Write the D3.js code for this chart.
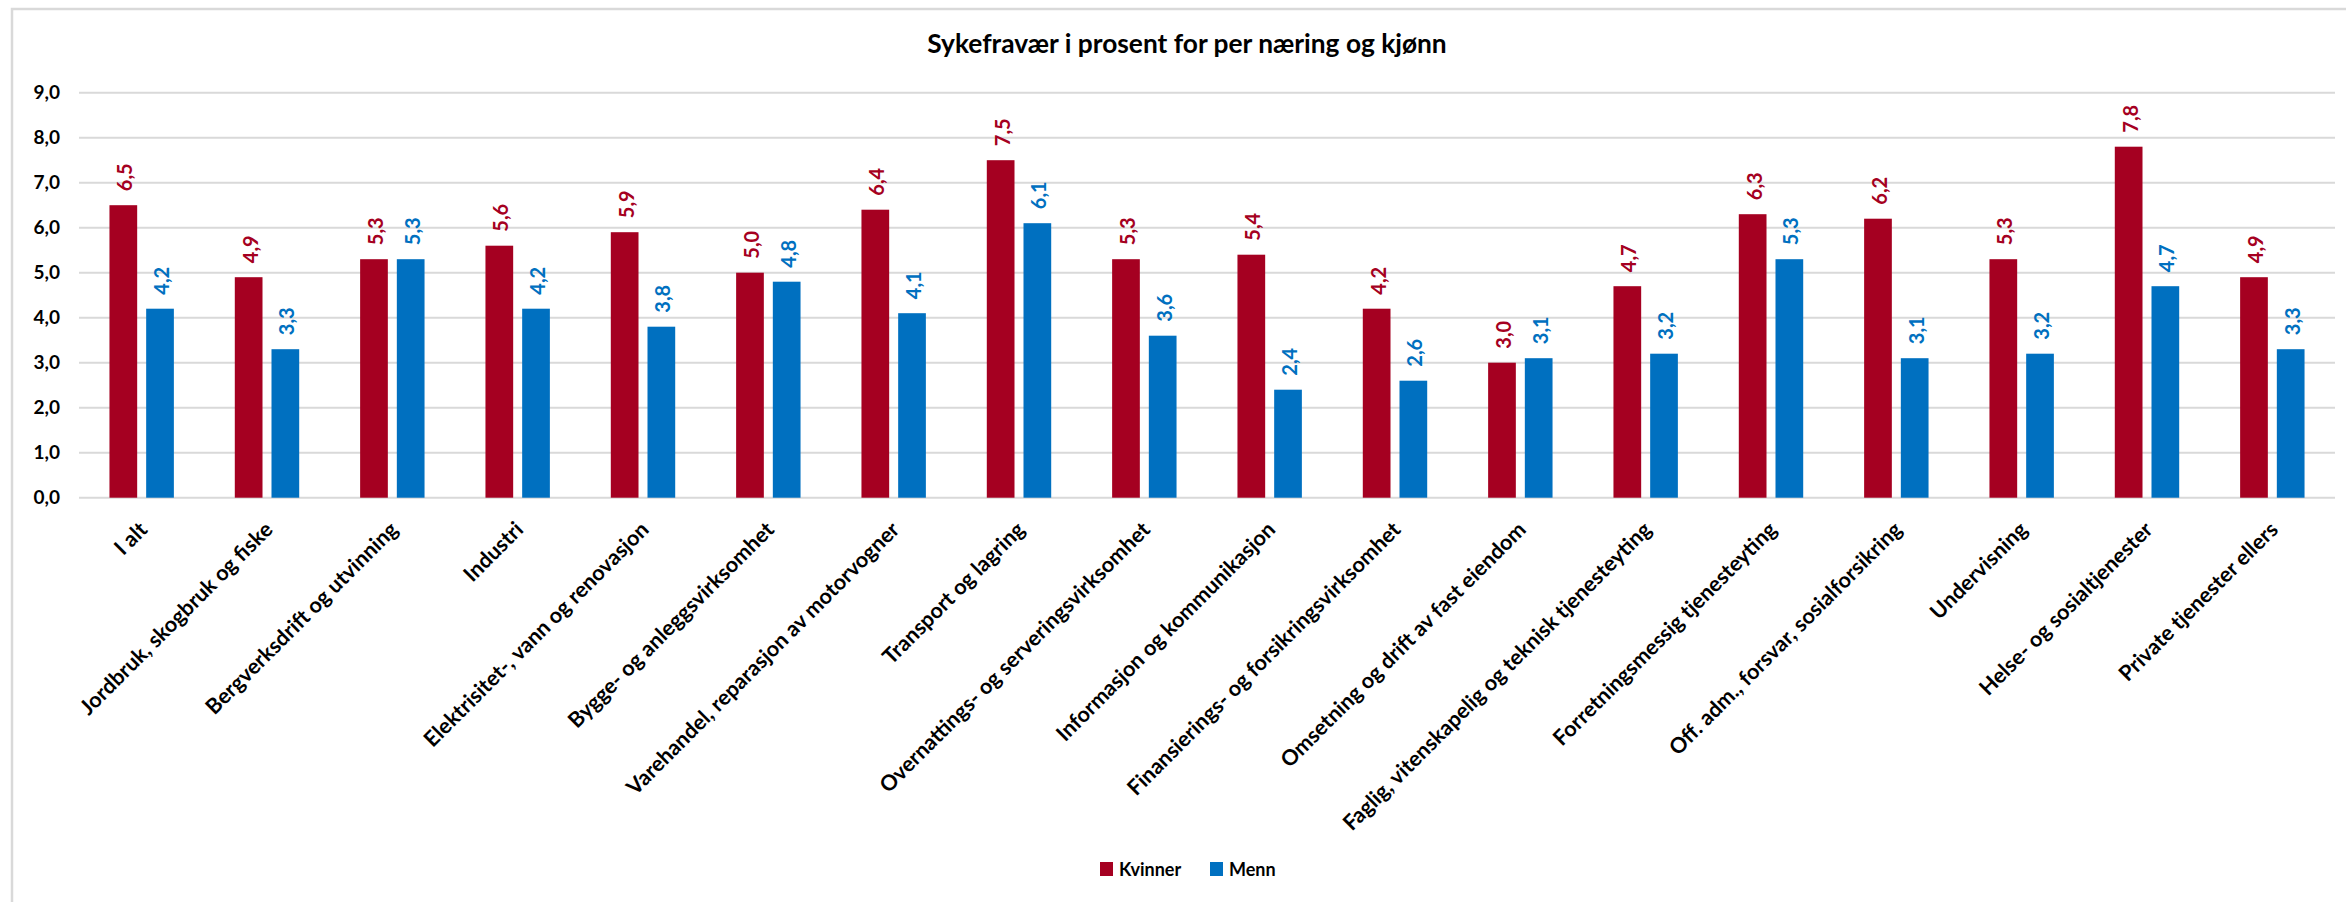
<!DOCTYPE html>
<html>
<head>
<meta charset="utf-8">
<script src="https://cdn.jsdelivr.net/npm/d3@7"></script>
<style>
  body { margin: 0; background: #fff; }
  svg { display: block; font-family: Lato, "Open Sans", sans-serif; }
</style>
</head>
<body>
<div class="chart"></div>
<script>
const categories = [
  "I alt",
  "Jordbruk, skogbruk og fiske",
  "Bergverksdrift og utvinning",
  "Industri",
  "Elektrisitet-, vann og renovasjon",
  "Bygge- og anleggsvirksomhet",
  "Varehandel, reparasjon av motorvogner",
  "Transport og lagring",
  "Overnattings- og serveringsvirksomhet",
  "Informasjon og kommunikasjon",
  "Finansierings- og forsikringsvirksomhet",
  "Omsetning og drift av fast eiendom",
  "Faglig, vitenskapelig og teknisk tjenesteyting",
  "Forretningsmessig tjenesteyting",
  "Off. adm., forsvar, sosialforsikring",
  "Undervisning",
  "Helse- og sosialtjenester",
  "Private tjenester ellers"
];
const kvinner = [6.5, 4.9, 5.3, 5.6, 5.9, 5.0, 6.4, 7.5, 5.3, 5.4, 4.2, 3.0, 4.7, 6.3, 6.2, 5.3, 7.8, 4.9];
const menn = [4.2, 3.3, 5.3, 4.2, 3.8, 4.8, 4.1, 6.1, 3.6, 2.4, 2.6, 3.1, 3.2, 5.3, 3.1, 3.2, 4.7, 3.3];
const seriesNames = ["Kvinner", "Menn"];
const yTicks = [0, 1, 2, 3, 4, 5, 6, 7, 8, 9];
const title = "Sykefravær i prosent for per næring og kjønn";

const width = 2346,
  height = 902,
  plotLeft = 79,
  plotRight = 2335,
  plotTop = 92.7,
  plotBottom = 497.7,
  kvinnerColor = "#a50021",
  mennColor = "#0070c0",
  gridColor = "#d9d9d9";

const fmt = (v) => d3.format(".1f")(v).replace(".", ",");

const rows = categories.map((c, i) => ({ name: c, values: [kvinner[i], menn[i]] }));

const svg = d3
  .select(".chart")
  .append("svg")
  .attr("width", width)
  .attr("height", height);

// outer frame (only top/left edges fall inside the picture)
svg
  .append("rect")
  .attr("x", 12)
  .attr("y", 9)
  .attr("width", width + 20)
  .attr("height", height + 20)
  .attr("fill", "white")
  .attr("stroke", gridColor)
  .attr("stroke-width", 2.5);

const xScale = d3
  .scaleBand()
  .domain(categories)
  .range([plotLeft, plotRight])
  .paddingInner(0)
  .paddingOuter(0);

const xInner = d3
  .scaleBand()
  .domain(seriesNames)
  .range([0, xScale.bandwidth()])
  .paddingInner(0.245)
  .paddingOuter(0.83);

const yScale = d3.scaleLinear().domain([0, 9]).range([plotBottom, plotTop]);

const colors = d3.scaleOrdinal().domain(seriesNames).range([kvinnerColor, mennColor]);

// gridlines
svg
  .append("g")
  .selectAll("line")
  .data(yTicks)
  .enter()
  .append("line")
  .attr("x1", plotLeft)
  .attr("x2", plotRight)
  .attr("y1", (d) => yScale(d))
  .attr("y2", (d) => yScale(d))
  .attr("stroke", gridColor)
  .attr("stroke-width", 2);

// y axis labels
const yAxis = d3
  .axisLeft(yScale)
  .tickValues(yTicks)
  .tickFormat(fmt)
  .tickSize(0)
  .tickPadding(0);

svg
  .append("g")
  .attr("transform", `translate(60, 0)`)
  .call(yAxis)
  .call((g) => g.select(".domain").remove())
  .selectAll("text")
  .style("font", "bold 19px Lato")
  .attr("fill", "#000");

// bars
const groups = svg
  .selectAll(".group")
  .data(rows)
  .enter()
  .append("g")
  .attr("transform", (d) => `translate(${xScale(d.name)}, 0)`);

const cells = groups
  .selectAll(".bar")
  .data((d) => d.values.map((v, i) => ({ key: seriesNames[i], value: v })))
  .enter();

cells
  .append("rect")
  .attr("x", (d) => xInner(d.key))
  .attr("y", (d) => yScale(d.value))
  .attr("width", xInner.bandwidth())
  .attr("height", (d) => yScale(0) - yScale(d.value))
  .attr("fill", (d) => colors(d.key));

cells
  .append("text")
  .text((d) => fmt(d.value))
  .attr(
    "transform",
    (d) =>
      `translate(${xInner(d.key) + xInner.bandwidth() / 2}, ${yScale(d.value) - 14}) rotate(-90)`
  )
  .attr("dy", "0.45em")
  .attr("fill", (d) => colors(d.key))
  .style("font", "bold 20px Lato");

// category labels
svg
  .append("g")
  .selectAll("text")
  .data(categories)
  .enter()
  .append("text")
  .text((d) => d)
  .attr(
    "transform",
    (d) => `translate(${xScale(d) + xScale.bandwidth() / 2 + 7}, 531) rotate(-45)`
  )
  .style("text-anchor", "end")
  .style("font", "bold 21.5px Lato")
  .attr("fill", "#000");

// title
svg
  .append("text")
  .text(title)
  .attr("x", 1187)
  .attr("y", 53)
  .style("text-anchor", "middle")
  .style("font", "bold 26.3px Lato")
  .attr("fill", "#000");

// legend
const legend = svg
  .append("g")
  .selectAll("g")
  .data(seriesNames)
  .enter()
  .append("g")
  .attr("transform", (d, i) => `translate(${i === 0 ? 1100 : 1210}, 862)`);

legend
  .append("rect")
  .attr("width", 13)
  .attr("height", 14)
  .attr("fill", (d) => colors(d));

legend
  .append("text")
  .text((d) => d)
  .attr("x", 19)
  .attr("y", 14)
  .style("font", "bold 18px Lato")
  .attr("fill", "#000");
</script>
</body>
</html>
